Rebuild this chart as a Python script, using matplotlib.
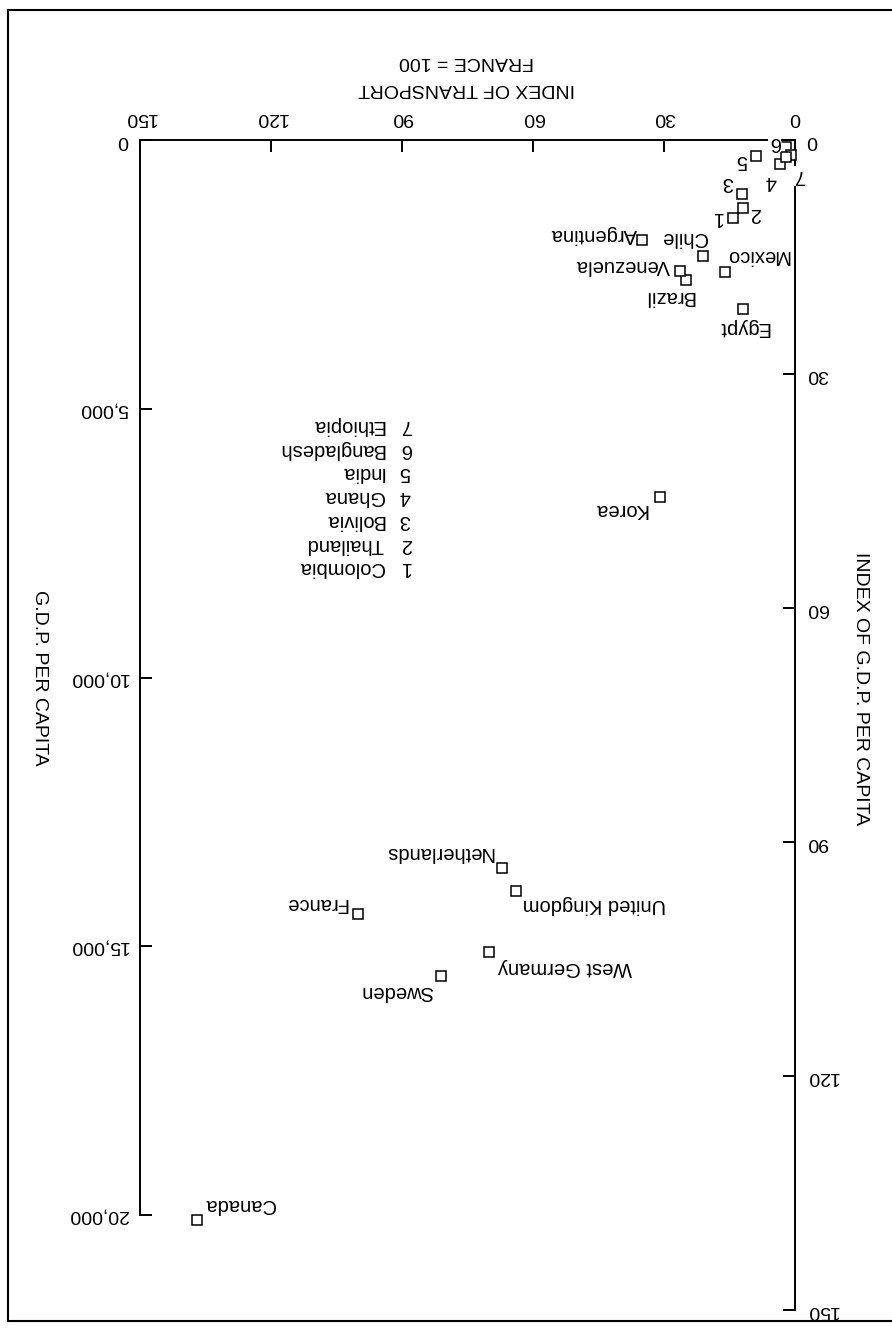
import matplotlib
matplotlib.use("Agg")
import matplotlib.pyplot as plt
from matplotlib.lines import Line2D

plt.rcParams['font.family'] = ['Liberation Sans', 'DejaVu Sans']
plt.rcParams['font.size'] = 14

countries = ["Canada", "Sweden", "West Germany", "France", "United Kingdom",
             "Netherlands", "Korea", "Egypt", "Brazil", "Venezuela", "Mexico",
             "Chile", "Argentina", "Colombia", "Thailand", "Bolivia", "Ghana",
             "India", "Bangladesh", "Ethiopia"]
transport = [137, 81, 70, 100, 64, 67, 31, 12, 25, 26.3, 16, 21, 35,
             14.2, 12, 12.1, 3.4, 8.9, 0.9, 2.0]
gdp = [20100, 15550, 15100, 14400, 13970, 13540, 6640, 3140, 2600, 2440,
       2460, 2160, 1860, 1450, 1270, 1000, 450, 300, 280, 320]
numbered = ["Colombia", "Thailand", "Bolivia", "Ghana", "India",
            "Bangladesh", "Ethiopia"]

transport_ticks = [0, 30, 60, 90, 120, 150]
gdp_ticks = [0, 5000, 10000, 15000, 20000]
gdp_tick_labels = ["0", "5,000", "10,000", "15,000", "20,000"]
index_ticks = [0, 30, 60, 90, 120, 150]

W, H = 892, 1328
fig = plt.figure(figsize=(W / 100, H / 100), dpi=100)

# axes box in pixels: left 140, right 795, top 140, bottom 1310
ax2 = fig.add_axes([140 / W, 1 - 1310 / H, (795 - 140) / W, (1310 - 140) / H])
ax = fig.add_axes(ax2.get_position())
ax.set_zorder(2)
ax2.set_zorder(1)
ax.patch.set_visible(False)

gdp_at_150 = 20000 * (1310 - 140) / (1215 - 140)
ax.set_xlim(150, 0)
ax.set_ylim(gdp_at_150, 0)
ax2.set_xlim(150, 0)
ax2.set_ylim(150, 0)

lw = 1.4
for a in (ax, ax2):
    for s in a.spines.values():
        s.set_linewidth(lw)
ax.spines['bottom'].set_visible(False)
ax.spines['right'].set_visible(False)
ax.spines['left'].set_bounds(0, 20000)
for s in ('bottom', 'left', 'top'):
    ax2.spines[s].set_visible(False)

ax.xaxis.tick_top()
ax.set_xticks(transport_ticks)
ax.set_xticklabels([str(t) for t in transport_ticks])
ax.set_yticks(gdp_ticks)
ax.set_yticklabels(gdp_tick_labels)
ax.tick_params(axis='x', direction='in', length=8.6, width=lw, pad=10,
               labelrotation=180, labelsize=14)
ax.tick_params(axis='y', direction='in', length=8.6, width=lw, pad=8.6,
               labelrotation=180, labelsize=14)

ax2.xaxis.set_visible(False)
ax2.yaxis.tick_right()
ax2.set_yticks(index_ticks)
ax2.set_yticklabels([str(t) for t in index_ticks])
ax2.tick_params(axis='y', direction='in', length=8.6, width=lw, pad=8,
                labelrotation=180, labelsize=14)
for lbl in ax.get_yticklabels() + ax2.get_yticklabels():
    lbl.set_verticalalignment('center')

ax.plot(transport, gdp, linestyle='none', marker='s', markersize=7.5,
        markerfacecolor='white', markeredgecolor='black', markeredgewidth=1.1,
        zorder=3, clip_on=False)

# label placement in pixels: dx right, dy down, alignment of the visual box
label_offsets = {
    "Canada": (8, -6, 'left', 'bottom'),
    "Sweden": (-8, 6, 'right', 'top'),
    "West Germany": (9, 6, 'left', 'top'),
    "France": (-11, -1, 'right', 'bottom'),
    "United Kingdom": (7, 4, 'left', 'top'),
    "Netherlands": (-9, -6, 'right', 'bottom'),
    "Korea": (-12, 3, 'right', 'top'),
    "Egypt": (1, 9, 'center', 'top'),
    "Brazil": (9, 7, 'right', 'top'),
    "Venezuela": (-10, -6, 'right', 'center'),
    "Mexico": (0, -7, 'left', 'bottom'),
    "Chile": (4, -9, 'right', 'bottom'),
    "Argentina": (-5, -5, 'right', 'center'),
    "Colombia": (-10, 0, 'right', 'center'),
    "Thailand": (6, 5, 'left', 'center'),
    "Bolivia": (-9, -2, 'right', 'bottom'),
    "Ghana": (-4, 8, 'right', 'top'),
    "India": (-9, 4, 'right', 'center'),
    "Bangladesh": (-11, -13, 'right', 'center'),
    "Ethiopia": (7, 9, 'left', 'top'),
}

for name, t, g in zip(countries, transport, gdp):
    txt = str(numbered.index(name) + 1) if name in numbered else name
    dx, dy, ha, va = label_offsets[name]
    kw = {}
    if name in ("Bangladesh", "Ethiopia"):
        kw['bbox'] = dict(fc='white', ec='none', pad=0.5)
    if name == "Bangladesh":
        kw['arrowprops'] = dict(arrowstyle='-', lw=1.1, color='black',
                                connectionstyle='angle,angleA=0,angleB=90',
                                relpos=(1, 0.5), shrinkA=1, shrinkB=4)
    ax.annotate(txt, xy=(t, g), xytext=(dx * 0.72, -dy * 0.72),
                textcoords='offset points', rotation=180, ha=ha, va=va,
                fontsize=14.5, zorder=4, annotation_clip=False, **kw)

# key for the numbered countries
for i, name in enumerate(numbered):
    y = 1 - (568 - i * 23.8) / H
    fig.text(405 / W, y, str(i + 1), rotation=180, ha='center', va='center',
             fontsize=14.5)
    fig.text(384 / W, y, name, rotation=180, ha='right', va='center',
             fontsize=14.5)

# axis titles
fig.text(467 / W, 1 - 75 / H, "INDEX OF TRANSPORT\nFRANCE = 100", rotation=180,
         ha='center', va='center', multialignment='center', fontsize=14,
         linespacing=1.8)
fig.text(39 / W, 1 - 678 / H, "G.D.P. PER CAPITA", rotation=270,
         ha='center', va='center', fontsize=14)
fig.text(860 / W, 1 - 689 / H, "INDEX OF G.D.P. PER CAPITA", rotation=270,
         ha='center', va='center', fontsize=14)

# page frame
fl = dict(color='black', linewidth=1.5, transform=fig.transFigure)
fig.add_artist(Line2D([8 / W, 8 / W], [1 - 10 / H, 1 - 1321 / H], **fl))
fig.add_artist(Line2D([8 / W, 1], [1 - 10 / H, 1 - 10 / H], **fl))
fig.add_artist(Line2D([8 / W, 1], [1 - 1321 / H, 1 - 1321 / H], **fl))

fig.savefig("out.png", dpi=100)
